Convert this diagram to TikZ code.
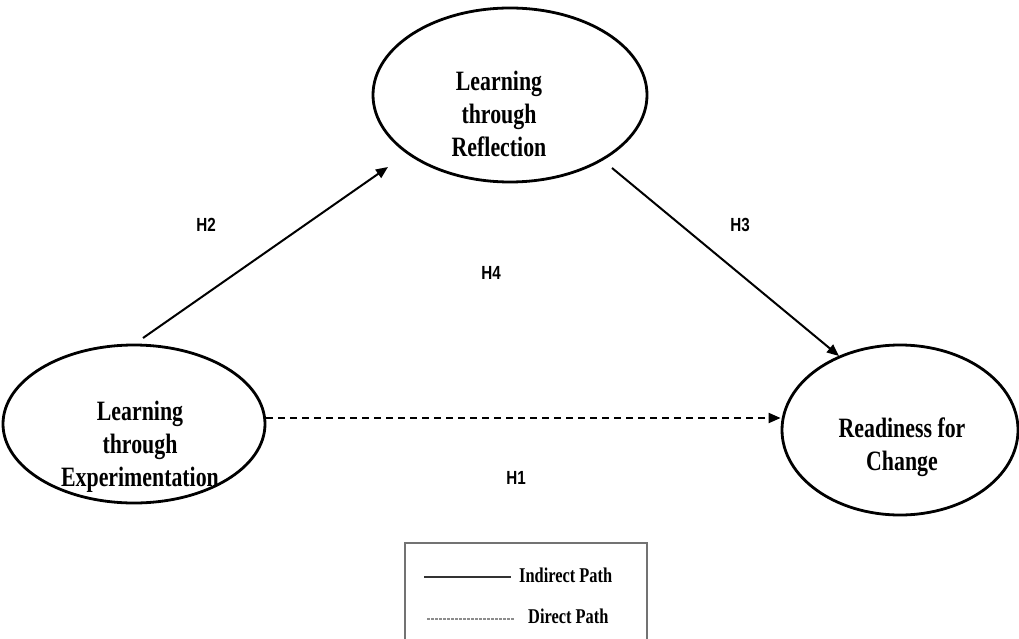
\documentclass[tikz,border=0pt]{standalone}
\usepackage{fontspec}
\setmainfont{Liberation Serif}
\newfontfamily\condserif[FakeStretch=0.78]{Liberation Serif}
\newfontfamily\labfont[FakeStretch=0.8]{Liberation Sans}
\usetikzlibrary{arrows.meta,shapes.geometric}
\begin{document}
\begin{tikzpicture}[x=1pt,y=-1pt,
  construct/.style={draw,line width=2.8pt,ellipse,inner sep=0pt},
  ctext/.style={font=\condserif\fontsize{28}{33}\selectfont\bfseries,align=center,inner sep=0pt},
  hlabel/.style={font=\labfont\fontsize{19}{22}\selectfont\bfseries},
  arrowpath/.style={line width=2pt,-{Triangle[length=12pt,width=10pt]}},
  legtext/.style={font=\condserif\fontsize{21}{24}\selectfont\bfseries,anchor=base west,inner sep=0pt}]
\useasboundingbox (0,0) rectangle (1019,639);
\fill[white] (0,0) rectangle (1019,639);
\node[construct,minimum width=274pt,minimum height=174pt] (ref) at (510,95) {};
\node[construct,minimum width=262pt,minimum height=158pt] (exp) at (134,424) {};
\node[construct,minimum width=236pt,minimum height=170pt] (rfc) at (900,430) {};
\node[ctext] (refT) at (499,114) {Learning\\through\\Reflection};
\node[ctext] (expT) at (140,447) {Learning\\through\\Experimentation};
\node[ctext] (rfcT) at (902,447) {Readiness for\\Change};
\coordinate (h2s) at (143,338);
\coordinate (h2e) at (388,167);
\coordinate (h3s) at (612,168);
\coordinate (h3e) at (839,356);
\draw[arrowpath] (h2s) -- (h2e);
\draw[arrowpath] (h3s) -- (h3e);
\draw[arrowpath,dash pattern=on 7pt off 5pt] (exp.east |- 0,418) -- (rfc.west |- 0,418);
\node[hlabel] (l2) at (206,225) {H2};
\node[hlabel] (l4) at (491,273) {H4};
\node[hlabel] (l3) at (740,225) {H3};
\node[hlabel] (l1) at (516,478) {H1};
\draw[line width=1.8pt,draw=black!55] (405,660) -- (405,543) -- (647,543) -- (647,660);
\coordinate (s1) at (424,577);
\coordinate (s2) at (511,577);
\coordinate (d1) at (427,619);
\coordinate (d2) at (514,619);
\draw[line width=1.4pt,black!80] (s1) -- (s2);
\draw[line width=1.4pt,black!45,dash pattern=on 2.5pt off 1.5pt] (d1) -- (d2);
\node[legtext] (it) at (519,582) {Indirect Path};
\node[legtext] (dt) at (528,623) {Direct Path};
\end{tikzpicture}
\end{document}
